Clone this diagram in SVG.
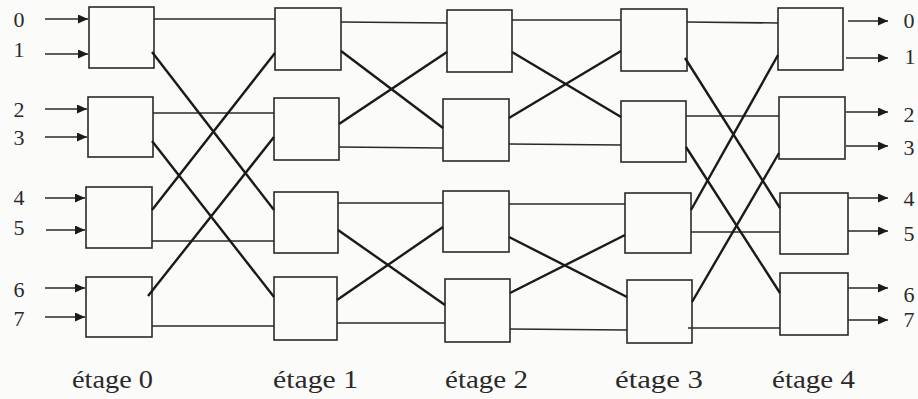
<svg xmlns="http://www.w3.org/2000/svg" width="918" height="399" viewBox="0 0 918 399">
<defs>
<style>
.box{fill:none;stroke:#2a2a2a;stroke-width:1.6}
.h{stroke:#2a2a2a;stroke-width:1.6;fill:none}
.d{stroke:#1a1a1a;stroke-width:2.4;fill:none}
.io{stroke:#2a2a2a;stroke-width:1.5;fill:none;marker-end:url(#ah)}
.t{font-family:"Liberation Serif","Times New Roman",Times,"Noto Serif","DejaVu Serif",serif;fill:#2a2a2a}
</style>
<marker id="ah" markerUnits="userSpaceOnUse" markerWidth="10" markerHeight="9" refX="10" refY="4.5" orient="auto">
<path d="M0,0 L10,4.5 L0,9 z" fill="#1a1a1a"/>
</marker>
</defs>
<rect width="918" height="399" fill="#fbfbfa"/>

<g id="stage0">
<g id="s0b0"><rect class="box" x="89" y="7" width="65" height="61"/></g>
<g id="s0b1"><rect class="box" x="88" y="97" width="65" height="60"/></g>
<g id="s0b2"><rect class="box" x="86" y="187" width="66" height="61"/></g>
<g id="s0b3"><rect class="box" x="86" y="277" width="66" height="60"/></g>
</g>
<g id="stage1">
<g id="s1b0"><rect class="box" x="275" y="8" width="66" height="62"/></g>
<g id="s1b1"><rect class="box" x="274" y="98" width="65" height="62"/></g>
<g id="s1b2"><rect class="box" x="274" y="192" width="64" height="61"/></g>
<g id="s1b3"><rect class="box" x="274" y="277" width="63" height="63"/></g>
</g>
<g id="stage2">
<g id="s2b0"><rect class="box" x="447" y="10" width="65" height="62"/></g>
<g id="s2b1"><rect class="box" x="443" y="99" width="66" height="62"/></g>
<g id="s2b2"><rect class="box" x="443" y="191" width="66" height="61"/></g>
<g id="s2b3"><rect class="box" x="445" y="279" width="65" height="63"/></g>
</g>
<g id="stage3">
<g id="s3b0"><rect class="box" x="621" y="9" width="66" height="62"/></g>
<g id="s3b1"><rect class="box" x="621" y="101" width="65" height="61"/></g>
<g id="s3b2"><rect class="box" x="625" y="193" width="66" height="60"/></g>
<g id="s3b3"><rect class="box" x="627" y="280" width="65" height="63"/></g>
</g>
<g id="stage4">
<g id="s4b0"><rect class="box" x="778" y="8" width="65" height="62"/></g>
<g id="s4b1"><rect class="box" x="779" y="97" width="66" height="62"/></g>
<g id="s4b2"><rect class="box" x="780" y="193" width="68" height="61"/></g>
<g id="s4b3"><rect class="box" x="780" y="273" width="68" height="62"/></g>
</g>

<g id="connectors">
<line class="h" x1="154" y1="19" x2="275" y2="19"/>
<line class="h" x1="153" y1="113" x2="274" y2="113"/>
<line class="h" x1="152" y1="241" x2="274" y2="241"/>
<line class="h" x1="152" y1="326" x2="274" y2="326"/>
<line class="d" x1="152" y1="52" x2="274" y2="210"/>
<line class="d" x1="152" y1="141" x2="274" y2="297"/>
<line class="d" x1="152" y1="210" x2="275" y2="53"/>
<line class="d" x1="148" y1="296" x2="274" y2="137"/>
<line class="h" x1="341" y1="22" x2="447" y2="23"/>
<line class="h" x1="339" y1="147" x2="443" y2="148"/>
<line class="h" x1="338" y1="203" x2="443" y2="203"/>
<line class="h" x1="337" y1="323" x2="445" y2="323"/>
<line class="d" x1="341" y1="51" x2="443" y2="128"/>
<line class="d" x1="339" y1="124" x2="447" y2="52"/>
<line class="d" x1="338" y1="230" x2="445" y2="305"/>
<line class="d" x1="337" y1="300" x2="443" y2="227"/>
<line class="h" x1="512" y1="20" x2="621" y2="20"/>
<line class="h" x1="509" y1="144" x2="621" y2="145"/>
<line class="h" x1="509" y1="204" x2="625" y2="204"/>
<line class="h" x1="510" y1="329" x2="627" y2="330"/>
<line class="d" x1="512" y1="52" x2="621" y2="117"/>
<line class="d" x1="509" y1="118" x2="621" y2="51"/>
<line class="d" x1="509" y1="237" x2="627" y2="297"/>
<line class="d" x1="510" y1="293" x2="625" y2="235"/>
<line class="h" x1="687" y1="22" x2="778" y2="23"/>
<line class="h" x1="686" y1="116" x2="779" y2="116"/>
<line class="h" x1="691" y1="232" x2="780" y2="232"/>
<line class="h" x1="688" y1="328" x2="780" y2="328"/>
<line class="d" x1="685" y1="58" x2="780" y2="208"/>
<line class="d" x1="686" y1="147" x2="780" y2="293"/>
<line class="d" x1="691" y1="210" x2="778" y2="55"/>
<line class="d" x1="692" y1="302" x2="779" y2="153"/>
<line class="io" x1="45" y1="19" x2="88" y2="19"/>
<line class="io" x1="45" y1="54" x2="88" y2="54"/>
<line class="io" x1="45" y1="109" x2="87" y2="109"/>
<line class="io" x1="45" y1="137" x2="87" y2="137"/>
<line class="io" x1="45" y1="198" x2="85" y2="198"/>
<line class="io" x1="46" y1="230" x2="85" y2="230"/>
<line class="io" x1="45" y1="288" x2="85" y2="288"/>
<line class="io" x1="45" y1="317" x2="85" y2="317"/>
<line class="io" x1="848" y1="21" x2="888" y2="21"/>
<line class="io" x1="846" y1="58" x2="888" y2="58"/>
<line class="io" x1="846" y1="112" x2="888" y2="112"/>
<line class="io" x1="846" y1="146" x2="888" y2="146"/>
<line class="io" x1="848" y1="198" x2="888" y2="198"/>
<line class="io" x1="848" y1="231" x2="888" y2="231"/>
<line class="io" x1="848" y1="288" x2="888" y2="288"/>
<line class="io" x1="848" y1="320" x2="888" y2="320"/>
</g>

<g id="input-labels" class="t" font-size="22" text-anchor="middle">
<text x="19" y="27">0</text>
<text x="19" y="57">1</text>
<text x="19" y="117">2</text>
<text x="19" y="145">3</text>
<text x="19" y="205">4</text>
<text x="19" y="235">5</text>
<text x="19" y="297">6</text>
<text x="19" y="326">7</text>
</g>
<g id="output-labels" class="t" font-size="22" text-anchor="middle">
<text x="909" y="28">0</text>
<text x="910" y="64">1</text>
<text x="909" y="122">2</text>
<text x="909" y="155">3</text>
<text x="909" y="206">4</text>
<text x="909" y="241">5</text>
<text x="909" y="302">6</text>
<text x="909" y="327">7</text>
</g>
<g id="stage-labels" class="t" font-size="26">
<text x="72" y="388" textLength="81" lengthAdjust="spacingAndGlyphs">étage 0</text>
<text x="273" y="388" textLength="85" lengthAdjust="spacingAndGlyphs">étage 1</text>
<text x="445" y="388" textLength="83" lengthAdjust="spacingAndGlyphs">étage 2</text>
<text x="615" y="388" textLength="88" lengthAdjust="spacingAndGlyphs">étage 3</text>
<text x="772" y="388" textLength="83" lengthAdjust="spacingAndGlyphs">étage 4</text>
</g>
</svg>
